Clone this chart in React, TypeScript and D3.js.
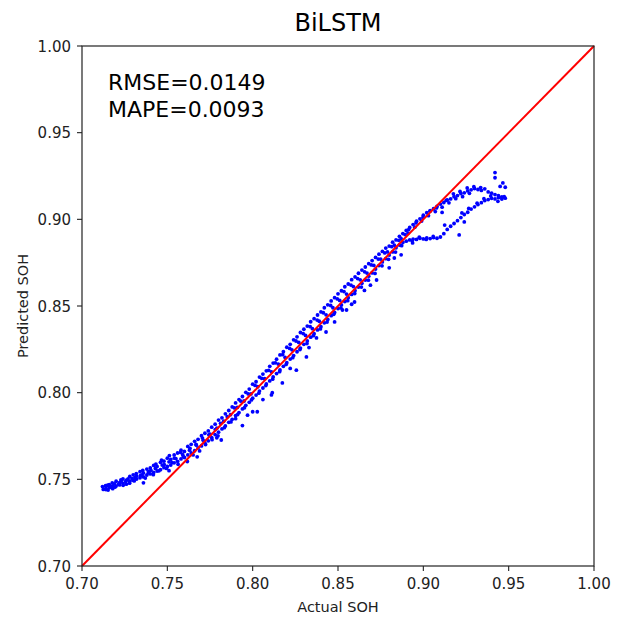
import React from "react";
import * as d3 from "d3";

// upper band of predictions (over-estimates at low SOH)
const upperBand: [number, number][] = [
  [0.712, 0.7458], [0.714, 0.7449], [0.716, 0.747], [0.718, 0.7462], [0.72, 0.7489],
  [0.722, 0.7481], [0.724, 0.7502], [0.726, 0.7495], [0.728, 0.7517], [0.73, 0.7526],
  [0.732, 0.7519], [0.734, 0.7544], [0.736, 0.7536], [0.738, 0.7559], [0.74, 0.7566],
  [0.742, 0.758], [0.744, 0.7574], [0.746, 0.7598], [0.748, 0.7605], [0.75, 0.7622],
  [0.752, 0.7615], [0.754, 0.7641], [0.756, 0.7652], [0.758, 0.7668], [0.76, 0.7661],
  [0.762, 0.769], [0.764, 0.7702], [0.766, 0.7719], [0.768, 0.7731], [0.77, 0.7752],
  [0.772, 0.7766], [0.774, 0.7779], [0.776, 0.7801], [0.778, 0.7818], [0.78, 0.7842],
  [0.782, 0.7855], [0.784, 0.7878], [0.786, 0.7897], [0.788, 0.7918], [0.79, 0.7941],
  [0.792, 0.796], [0.794, 0.7978], [0.796, 0.8002], [0.798, 0.8021], [0.8, 0.8049],
  [0.802, 0.8063], [0.804, 0.809], [0.806, 0.8107], [0.808, 0.8126], [0.81, 0.8152],
  [0.812, 0.8171], [0.814, 0.8193], [0.816, 0.8218], [0.818, 0.8236], [0.82, 0.8262],
  [0.822, 0.8279], [0.824, 0.8305], [0.826, 0.8322], [0.828, 0.8347], [0.83, 0.8366],
  [0.832, 0.8384], [0.834, 0.8409], [0.836, 0.8427], [0.838, 0.8448], [0.84, 0.8466],
  [0.842, 0.849], [0.844, 0.8507], [0.846, 0.8529], [0.848, 0.8548], [0.85, 0.857],
  [0.852, 0.8588], [0.854, 0.8611], [0.856, 0.8627], [0.858, 0.8652], [0.86, 0.8668],
  [0.862, 0.8689], [0.864, 0.8707], [0.866, 0.8725], [0.868, 0.8744], [0.87, 0.8762],
  [0.872, 0.878], [0.874, 0.8799], [0.876, 0.8815], [0.878, 0.8834], [0.88, 0.8846],
  [0.882, 0.8868], [0.884, 0.8881], [0.886, 0.8902], [0.888, 0.8918], [0.89, 0.8936],
  [0.892, 0.8953], [0.894, 0.897], [0.896, 0.8989], [0.898, 0.9003], [0.9, 0.9024],
  [0.902, 0.9038], [0.904, 0.905], [0.906, 0.9061], [0.908, 0.9074], [0.91, 0.9088],
  [0.912, 0.9097], [0.914, 0.9112], [0.916, 0.9118], [0.918, 0.9131], [0.92, 0.9137],
  [0.922, 0.9149], [0.924, 0.9153], [0.926, 0.9164], [0.928, 0.917], [0.93, 0.9178],
  [0.932, 0.9172], [0.934, 0.9167], [0.936, 0.9176], [0.938, 0.9158], [0.94, 0.9151],
  [0.942, 0.9143], [0.944, 0.9136], [0.946, 0.9128],
];

// lower band, flattening around 0.89 before climbing again
const lowerBand: [number, number][] = [
  [0.714, 0.7441], [0.716, 0.7452], [0.718, 0.7446], [0.72, 0.7461], [0.722, 0.7468],
  [0.724, 0.7477], [0.726, 0.7472], [0.728, 0.7489], [0.73, 0.7494], [0.732, 0.7502],
  [0.734, 0.7509], [0.736, 0.7514], [0.738, 0.7525], [0.74, 0.7531], [0.742, 0.754],
  [0.744, 0.7548], [0.746, 0.7556], [0.748, 0.7567], [0.75, 0.7574], [0.752, 0.7582],
  [0.754, 0.7595], [0.756, 0.7604], [0.758, 0.7618], [0.76, 0.7626], [0.762, 0.7641],
  [0.764, 0.7652], [0.766, 0.7665], [0.768, 0.7681], [0.77, 0.7693], [0.772, 0.771],
  [0.774, 0.7722], [0.776, 0.7741], [0.778, 0.7758], [0.78, 0.7772], [0.782, 0.7791],
  [0.784, 0.7808], [0.786, 0.7829], [0.788, 0.7846], [0.79, 0.7868], [0.792, 0.7885],
  [0.794, 0.7906], [0.796, 0.7927], [0.798, 0.7944], [0.8, 0.7968], [0.802, 0.7986],
  [0.804, 0.8009], [0.806, 0.8027], [0.808, 0.805], [0.81, 0.8068], [0.812, 0.8091],
  [0.814, 0.811], [0.816, 0.8131], [0.818, 0.8152], [0.82, 0.8173], [0.822, 0.8194],
  [0.824, 0.8214], [0.826, 0.8236], [0.828, 0.8257], [0.83, 0.8279], [0.832, 0.8298],
  [0.834, 0.832], [0.836, 0.834], [0.838, 0.8362], [0.84, 0.8381], [0.842, 0.8403],
  [0.844, 0.8422], [0.846, 0.8444], [0.848, 0.8463], [0.85, 0.8485], [0.852, 0.8506],
  [0.854, 0.8526], [0.856, 0.8548], [0.858, 0.8567], [0.86, 0.8589], [0.862, 0.8609],
  [0.864, 0.8631], [0.866, 0.865], [0.868, 0.8672], [0.87, 0.8691], [0.872, 0.8713],
  [0.874, 0.8733], [0.876, 0.8754], [0.878, 0.8773], [0.88, 0.8794], [0.882, 0.8812],
  [0.884, 0.8836], [0.886, 0.8852], [0.888, 0.8866], [0.89, 0.8874], [0.892, 0.8881],
  [0.894, 0.8886], [0.896, 0.8884], [0.898, 0.8891], [0.9, 0.8887], [0.902, 0.8893],
  [0.904, 0.8889], [0.906, 0.8895], [0.908, 0.8891], [0.91, 0.8898], [0.912, 0.8917],
  [0.914, 0.8942], [0.916, 0.896], [0.918, 0.8976], [0.92, 0.8992], [0.922, 0.901],
  [0.924, 0.9028], [0.926, 0.9041], [0.928, 0.9059], [0.93, 0.9072], [0.932, 0.9085],
  [0.934, 0.9096], [0.936, 0.9108], [0.938, 0.9114], [0.94, 0.9121], [0.942, 0.9118],
  [0.944, 0.9125], [0.946, 0.9117], [0.948, 0.9122],
];

// points filling the gap between the two bands
const middleBand: [number, number][] = [
  [0.715, 0.7466], [0.719, 0.7474], [0.723, 0.749], [0.727, 0.7503], [0.731, 0.7511],
  [0.735, 0.7525], [0.739, 0.7545], [0.743, 0.7563], [0.747, 0.7582], [0.751, 0.7601],
  [0.755, 0.762], [0.759, 0.7642], [0.763, 0.7668], [0.767, 0.7697], [0.771, 0.7725],
  [0.775, 0.776], [0.779, 0.7795], [0.783, 0.7835], [0.787, 0.7873], [0.791, 0.7915],
  [0.795, 0.7952], [0.799, 0.7993], [0.803, 0.8034], [0.807, 0.8081], [0.811, 0.812],
  [0.815, 0.8165], [0.819, 0.8203], [0.823, 0.8247], [0.827, 0.829], [0.831, 0.833],
  [0.835, 0.8369], [0.839, 0.8412], [0.843, 0.8449], [0.847, 0.849], [0.851, 0.8532],
  [0.855, 0.8569], [0.859, 0.8612], [0.863, 0.8651], [0.867, 0.869], [0.871, 0.8734],
  [0.875, 0.8771], [0.879, 0.8812], [0.883, 0.8851], [0.887, 0.8888], [0.891, 0.8921],
  [0.895, 0.8955], [0.899, 0.899], [0.903, 0.9021], [0.907, 0.9045], [0.911, 0.907],
  [0.915, 0.9095], [0.919, 0.9119], [0.923, 0.9131], [0.927, 0.915],
];

// looser scatter around the bands
const scatterBand: [number, number][] = [
  [0.7125, 0.7442], [0.7138, 0.7463], [0.7153, 0.7438], [0.7168, 0.7458], [0.7177, 0.7479],
  [0.7193, 0.7455], [0.7214, 0.7472], [0.7228, 0.7497], [0.7241, 0.7466], [0.7256, 0.7486],
  [0.7279, 0.7478], [0.7293, 0.7504], [0.7306, 0.7491], [0.7318, 0.7533], [0.7342, 0.7521],
  [0.7356, 0.7551], [0.7371, 0.7507], [0.7389, 0.7538], [0.7404, 0.7552], [0.7418, 0.7527],
  [0.7433, 0.7588], [0.7451, 0.7549], [0.7466, 0.7611], [0.7482, 0.7585], [0.7495, 0.7563],
  [0.7512, 0.7637], [0.7527, 0.7596], [0.7541, 0.7622], [0.7563, 0.7587], [0.7578, 0.7655],
  [0.7594, 0.7631], [0.7617, 0.7603], [0.7633, 0.7679], [0.7651, 0.7641], [0.7668, 0.7702],
  [0.7689, 0.7664], [0.7706, 0.7738], [0.7724, 0.7701], [0.7743, 0.7757], [0.7762, 0.7729],
  [0.7781, 0.7787], [0.7797, 0.7751], [0.7812, 0.7823], [0.7834, 0.7798], [0.7851, 0.7861],
  [0.7873, 0.7831], [0.7893, 0.7912], [0.7912, 0.7874], [0.7931, 0.7951], [0.7952, 0.7913],
  [0.7974, 0.7993], [0.7993, 0.7958], [0.8014, 0.8042], [0.8036, 0.7997], [0.8053, 0.8083],
  [0.8077, 0.8041], [0.8094, 0.8129], [0.8117, 0.8078], [0.8133, 0.8172], [0.8158, 0.8121],
  [0.8176, 0.8219], [0.8196, 0.8163], [0.8217, 0.8255], [0.8235, 0.8202], [0.8254, 0.8298],
  [0.8277, 0.8249], [0.8296, 0.8341], [0.8318, 0.8283], [0.8337, 0.8381], [0.8356, 0.8329],
  [0.8378, 0.8419], [0.8397, 0.8368], [0.8414, 0.8461], [0.8436, 0.8407], [0.8457, 0.8503],
  [0.8475, 0.8452], [0.8496, 0.8541], [0.8517, 0.8489], [0.8535, 0.8583], [0.8557, 0.8531],
  [0.8576, 0.8621], [0.8598, 0.8572], [0.8615, 0.8658], [0.8637, 0.8609], [0.8656, 0.8697],
  [0.8678, 0.8649], [0.8695, 0.8737], [0.8717, 0.8688], [0.8736, 0.8771], [0.8758, 0.8732],
  [0.8774, 0.8806], [0.8796, 0.8769], [0.8815, 0.8842], [0.8837, 0.8811], [0.8856, 0.8879],
  [0.8873, 0.8848], [0.8893, 0.8912], [0.8914, 0.8941], [0.8935, 0.8876], [0.8957, 0.8979],
  [0.8976, 0.8897], [0.8998, 0.9011], [0.9017, 0.8884], [0.9039, 0.9047], [0.9058, 0.8901],
  [0.9077, 0.9066], [0.9134, 0.9109], [0.9176, 0.9147], [0.9215, 0.9161], [0.9257, 0.9181],
  [0.9296, 0.9188], [0.9336, 0.9183], [0.9315, 0.9093], [0.9355, 0.9119], [0.9395, 0.9135],
  [0.9437, 0.9104], [0.9474, 0.9131], [0.9226, 0.9037], [0.9266, 0.9063],
];

const outliers: [number, number][] = [
  [0.736, 0.748], [0.751, 0.755], [0.7675, 0.763], [0.779, 0.774], [0.7816, 0.7727],
  [0.794, 0.781], [0.797, 0.787], [0.8027, 0.789], [0.8, 0.789], [0.811, 0.7987],
  [0.8115, 0.8], [0.8174, 0.8056], [0.8256, 0.813], [0.8315, 0.8206], [0.8374, 0.8316],
  [0.843, 0.835], [0.848, 0.8408], [0.8526, 0.8477], [0.855, 0.8477], [0.8597, 0.8523],
  [0.8655, 0.859], [0.8726, 0.865], [0.88, 0.872], [0.883, 0.8777], [0.8937, 0.8864],
  [0.911, 0.904], [0.9125, 0.8967], [0.921, 0.891], [0.924, 0.8985], [0.942, 0.927],
  [0.942, 0.924], [0.9466, 0.921], [0.945, 0.919], [0.948, 0.9185], [0.946, 0.9128],
  [0.79, 0.785], [0.806, 0.796], [0.822, 0.814], [0.833, 0.826], [0.858, 0.851],
  [0.869, 0.862], [0.887, 0.8795],
];

const ticks = [0.7, 0.75, 0.8, 0.85, 0.9, 0.95, 1.0];
const chartTitle = "BiLSTM";
const metrics = ["RMSE=0.0149", "MAPE=0.0093"];

const W = 624;
const H = 617;
const left = 82;
const right = 594;
const top = 46;
const bottom = 566;
const font = "DejaVu Sans, sans-serif";

export default function App() {
  const x = d3.scaleLinear().domain([0.7, 1.0]).range([left, right]);
  const y = d3.scaleLinear().domain([0.7, 1.0]).range([bottom, top]);
  const all = [...upperBand, ...middleBand, ...lowerBand, ...scatterBand, ...outliers];

  return (
    <svg
      width={W}
      height={H}
      style={{ position: "absolute", left: 0, top: 0, background: "#fff" }}
      fontFamily={font}
    >
      <rect width={W} height={H} fill="#fff" />
      <text x={(left + right) / 2} y={31} fontSize={24} textAnchor="middle" fill="#000">
        {chartTitle}
      </text>

      {all.map((d, i) => (
        <circle key={i} cx={x(d[0])} cy={y(d[1])} r={1.9} fill="#0000ff" />
      ))}

      <line x1={x(0.7)} y1={y(0.7)} x2={x(1.0)} y2={y(1.0)} stroke="#ff0000" strokeWidth={2} />

      <rect
        x={left}
        y={top}
        width={right - left}
        height={bottom - top}
        fill="none"
        stroke="#222"
        strokeWidth={1.2}
      />

      {ticks.map((t) => (
        <g key={"x" + t}>
          <line x1={x(t)} x2={x(t)} y1={bottom} y2={bottom + 5} stroke="#222" strokeWidth={1.1} />
          <text x={x(t)} y={589} fontSize={15} textAnchor="middle" fill="#222">
            {t.toFixed(2)}
          </text>
        </g>
      ))}
      {ticks.map((t) => (
        <g key={"y" + t}>
          <line x1={left - 5} x2={left} y1={y(t)} y2={y(t)} stroke="#222" strokeWidth={1.1} />
          <text x={71} y={y(t) + 5.5} fontSize={15} textAnchor="end" fill="#222">
            {t.toFixed(2)}
          </text>
        </g>
      ))}

      <text x={(left + right) / 2} y={612} fontSize={14.5} textAnchor="middle" fill="#222">
        Actual SOH
      </text>
      <text
        transform={`translate(28,${(top + bottom) / 2}) rotate(-90)`}
        fontSize={14.5}
        textAnchor="middle"
        fill="#222"
      >
        Predicted SOH
      </text>

      {metrics.map((m, i) => (
        <text key={m} x={108} y={90 + i * 27} fontSize={22} fill="#000">
          {m}
        </text>
      ))}
    </svg>
  );
}
